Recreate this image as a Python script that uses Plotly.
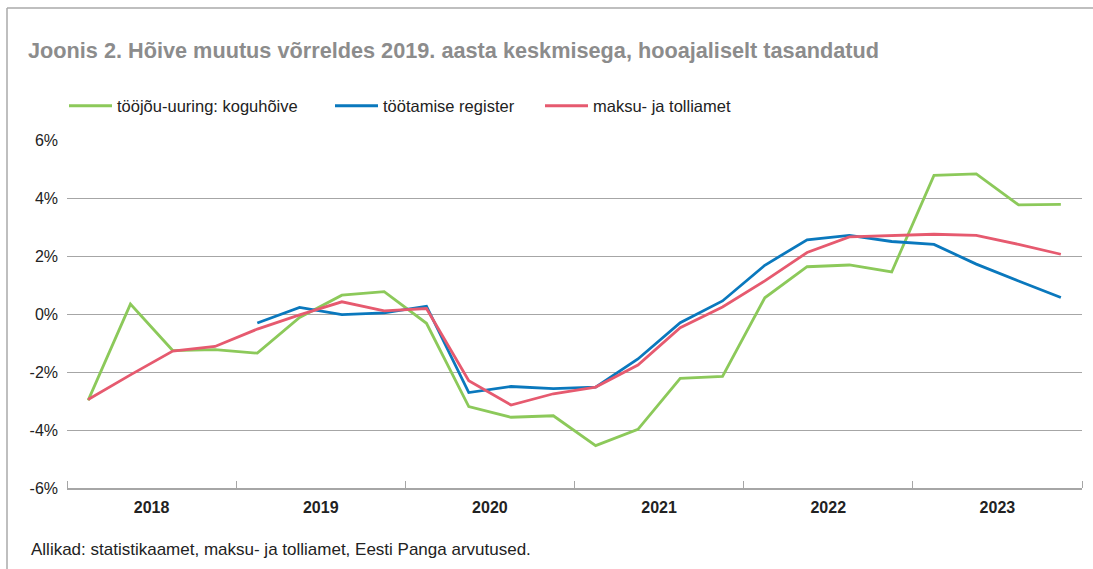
import plotly.graph_objects as go

years = ["2018", "2019", "2020", "2021", "2022", "2023"]
quarters = [f"{y}Q{q}" for y in years for q in range(1, 5)]

green = [-2.98, 0.34, -1.26, -1.23, -1.35, -0.12, 0.65, 0.77, -0.32, -3.19, -3.56, -3.51,
         -4.54, -3.98, -2.22, -2.15, 0.56, 1.63, 1.69, 1.45, 4.78, 4.83, 3.76, 3.78]
blue = [None, None, None, None, -0.31, 0.23, -0.02, 0.04, 0.27, -2.71, -2.50, -2.57,
        -2.52, -1.55, -0.30, 0.45, 1.68, 2.56, 2.71, 2.50, 2.40, 1.72, 1.14, 0.57]
red = [-2.95, -2.10, -1.28, -1.12, -0.52, -0.03, 0.42, 0.11, 0.19, -2.30, -3.14, -2.75,
       -2.52, -1.76, -0.47, 0.24, 1.14, 2.12, 2.66, 2.71, 2.75, 2.71, 2.40, 2.06]

names = ["tööjõu-uuring: koguhõive", "töötamise register", "maksu- ja tolliamet"]
colors = ["#8cc95a", "#0a78bd", "#e65a6f"]
yticks = [-6, -4, -2, 0, 2, 4, 6]

FONT = "Liberation Sans, Arial, sans-serif"
W, H = 1093, 569
L, R, T, B = 67, 11, 140, 81
pw = W - L - R
ph = H - T - B

def px(x):
    return (x - L) / pw

def py(y):
    return (H - B - y) / ph

xpos = [i + 0.5 for i in range(len(quarters))]

fig = go.Figure()
legend_x = [70, 336, 546]
for k, (nm, vals, col) in enumerate(zip(names, [green, blue, red], colors)):
    lg = "legend" if k == 0 else f"legend{k+1}"
    fig.add_trace(go.Scatter(x=xpos, y=vals, name=nm, mode="lines",
                             line=dict(color=col, width=2.8),
                             connectgaps=False, legend=lg,
                             hovertext=quarters))

leg_common = dict(orientation="h", xanchor="left", yanchor="middle",
                  font=dict(family=FONT, size=16.5, color="#222222"),
                  bgcolor="rgba(0,0,0,0)", itemwidth=43, tracegroupgap=0)
layout_legends = {}
for k, lx in enumerate(legend_x):
    key = "legend" if k == 0 else f"legend{k+1}"
    layout_legends[key] = dict(x=px(lx - 6), y=py(106), **leg_common)

fig.update_layout(
    width=W, height=H,
    margin=dict(l=L, r=R, t=T, b=B, autoexpand=False),
    paper_bgcolor="white", plot_bgcolor="white",
    font=dict(family=FONT, size=16, color="#222222"),
    showlegend=True,
    title=dict(text="<b>Joonis 2. Hõive muutus võrreldes 2019. aasta keskmisega, hooajaliselt tasandatud</b>",
               x=28 / W, xanchor="left", y=1 - 50 / H, yanchor="middle",
               font=dict(family=FONT, size=21.7, color="#8c8c8c")),
    xaxis=dict(range=[0, 24], tickvals=[2, 6, 10, 14, 18, 22], ticktext=[f"<b>{y}</b>" for y in years],
               ticks="", showgrid=False, zeroline=False, showline=True, linecolor="#a6a6a6", linewidth=1.5,
               tickfont=dict(family=FONT, size=16, color="#222222"), ticklabelstandoff=4,
               minor=dict(tick0=0, dtick=4, ticks="inside", ticklen=7, tickcolor="#a6a6a6",
                          tickwidth=1.2, showgrid=False),
               fixedrange=True),
    yaxis=dict(range=[-6, 6], tickvals=yticks, ticktext=[f"{v}%" for v in yticks],
               showgrid=True, gridcolor="#a6a6a6", gridwidth=1.3, zeroline=False, showline=False,
               ticks="", tickfont=dict(family=FONT, size=16, color="#222222"), ticklabelstandoff=8,
               fixedrange=True),
    **layout_legends,
)

fig.add_annotation(text="Allikad: statistikaamet, maksu- ja tolliamet, Eesti Panga arvutused.",
                   xref="paper", yref="paper", x=px(29), y=py(549), xanchor="left", yanchor="middle",
                   showarrow=False, font=dict(family=FONT, size=17, color="#222222"))

# frame lines (top and left)
fig.add_shape(type="line", xref="paper", yref="paper", x0=px(7), x1=px(W), y0=py(8), y1=py(8),
              line=dict(color="#aaaaaa", width=1.5))
fig.add_shape(type="line", xref="paper", yref="paper", x0=px(7), x1=px(7), y0=py(8), y1=py(H),
              line=dict(color="#aaaaaa", width=1.5))

fig.write_html("out.html", config={"displayModeBar": False},
               post_script="document.body.style.margin='0';")
